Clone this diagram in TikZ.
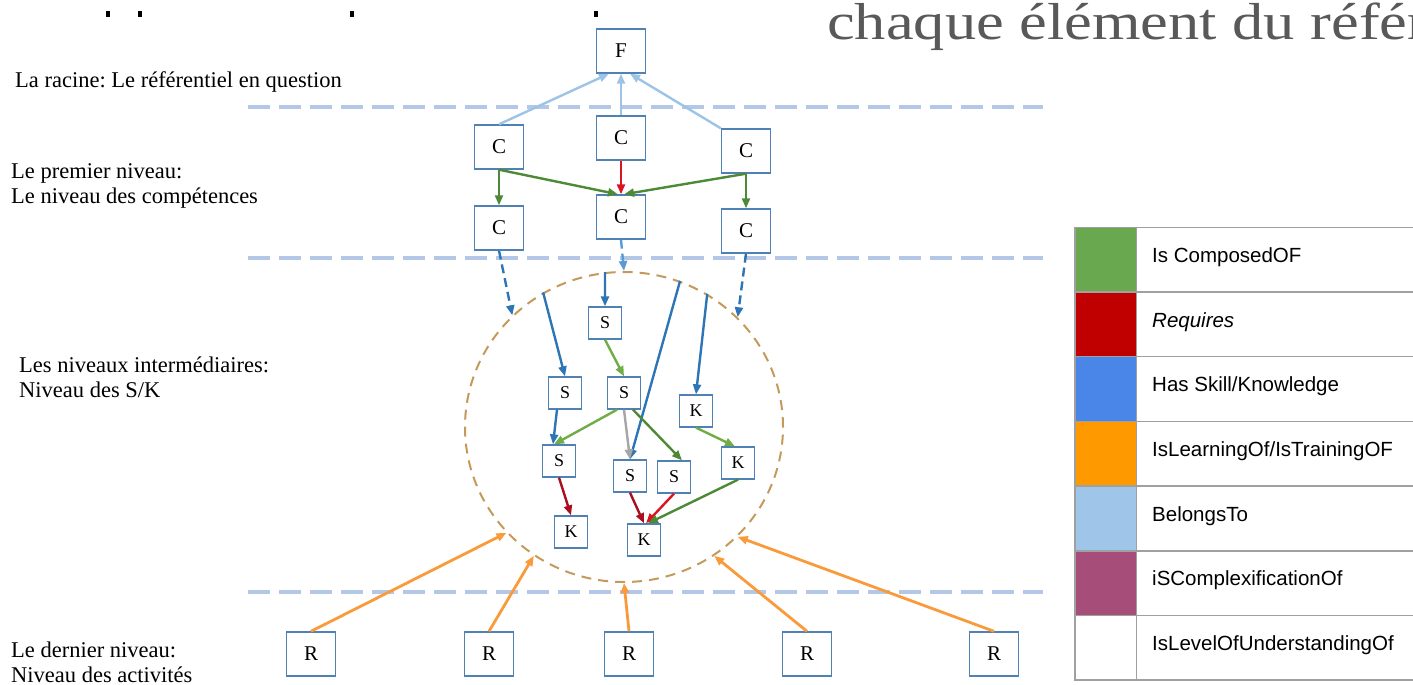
\documentclass[tikz,border=0pt]{standalone}
\usepackage{fontspec}
\setmainfont{Liberation Serif}
\newfontfamily\legfont{Liberation Sans}
\newfontfamily\titlefont[FakeStretch=1.2]{Liberation Serif}
\usepackage{tikz}
\usetikzlibrary{arrows.meta,shapes.geometric}

\definecolor{lvlblue}{HTML}{B4C7E7}
\definecolor{belongc}{HTML}{9DC3E6}
\definecolor{boxc}{HTML}{4F81B4}
\definecolor{dgreen}{HTML}{4E8A36}
\definecolor{lgreen}{HTML}{70AD47}
\definecolor{redc}{HTML}{DC1420}
\definecolor{dredc}{HTML}{A8101E}
\definecolor{skillc}{HTML}{2E75B6}
\definecolor{skillc2}{HTML}{5B9BD5}
\definecolor{orangec}{HTML}{F99B3A}
\definecolor{ringc}{HTML}{C49A5A}
\definecolor{topgray}{HTML}{595959}
\definecolor{leggrid}{HTML}{A0A0A0}
\definecolor{lgGreen}{HTML}{6AA84F}
\definecolor{lgRed}{HTML}{C00000}
\definecolor{lgBlue}{HTML}{4A86E8}
\definecolor{lgOrange}{HTML}{FF9900}
\definecolor{lgLight}{HTML}{9FC5E8}
\definecolor{lgPurple}{HTML}{A64D79}

\begin{document}
\frenchspacing
\begin{tikzpicture}[x=1pt,y=-1pt,
  lab/.style={anchor=north west,inner sep=0pt,align=left,font=\fontsize{22.5}{25}\selectfont},
  cbox/.style={draw=boxc,line width=1.4pt,fill=white,minimum width=49pt,minimum height=44pt,inner sep=0pt,font=\fontsize{21}{24}\selectfont},
  sbox/.style={draw=boxc,line width=1.3pt,fill=white,minimum width=33pt,minimum height=32pt,inner sep=0pt,font=\fontsize{18}{20}\selectfont},
  lvl/.style={draw=lvlblue,line width=4pt,dash pattern=on 22pt off 9pt},
  link/.style={line width=2.4pt,-{Triangle[length=10pt,width=8pt]}},
  belongs/.style={link,belongc},
  composed/.style={link,dgreen},
  composedl/.style={link,lgreen},
  requires/.style={link,redc},
  requiresd/.style={link,dredc},
  hasskill/.style={link,skillc},
  skilldash/.style={hasskill,dash pattern=on 9pt off 5pt},
  learning/.style={link,orangec,line width=2.8pt},
  legline/.style={draw=leggrid,line width=1.5pt}
]
\useasboundingbox (0,0) rectangle (1413,685);
\clip (0,0) rectangle (1413,685);

% bits of the line above
\fill (106,11) rectangle (110,17);
\fill (138,11) rectangle (142,17);
\fill (350,11) rectangle (354,17);
\fill (594,11) rectangle (598,17);
\node[anchor=base west,inner sep=0pt,text=topgray,font=\titlefont\fontsize{52}{60}\selectfont] (title) at (827,40) {chaque élément du référ};

% level labels
\node[lab] (lv0) at (15,71) {La racine: Le référentiel en question};
\node[lab] (lv1) at (11,163) {Le premier niveau:\\Le niveau des compétences};
\node[lab] (lv2) at (19,357) {Les niveaux intermédiaires:\\Niveau des S/K};
\node[lab] (lv3) at (11,642) {Le dernier niveau:\\Niveau des activités};

% separators
\draw[lvl] (248,107) -- (1043,107);
\draw[lvl] (248,258) -- (1043,258);
\draw[lvl] (248,592) -- (1043,592);

% root and competences
\node[cbox] (f) at (621,51) {F};
\node[cbox] (c1) at (499,147) {C};
\node[cbox] (c2) at (621,138) {C};
\node[cbox] (c3) at (746,151) {C};
\node[cbox] (c4) at (499,228) {C};
\node[cbox] (c5) at (621,217) {C};
\node[cbox] (c6) at (746,231) {C};

\draw[belongs] (c1.north) -- ([xshift=-12pt]f.south);
\draw[belongs] (c2.north) -- (f.south);
\draw[belongs] (c3.north west) -- ([xshift=9pt]f.south);
\draw[composed] (c1.south) -- (c4.north);
\draw[composed] (c1.south) -- ([xshift=-3pt]c5.north);
\draw[composed] (c3.south) -- ([xshift=3pt]c5.north);
\draw[composed] (c3.south) -- (c6.north);
\draw[requires] (c2.south) -- (c5.north);

% S/K ring
\node[ellipse,draw=ringc,line width=2pt,dash pattern=on 10pt off 7pt,minimum width=318pt,minimum height=310pt,inner sep=0pt] (sk) at (624,427) {};
\draw[skilldash] (c4.south) -- (sk.135);
\draw[skilldash,skillc2] (c5.south) -- (sk.90);
\draw[skilldash] (c6.south) -- (sk.44);

\node[sbox] (s1) at (605,323) {S};
\node[sbox] (s2) at (565,393) {S};
\node[sbox] (s3) at (624,393) {S};
\node[sbox] (k1) at (696,411) {K};
\node[sbox] (s4) at (559,461) {S};
\node[sbox] (s5) at (630,476) {S};
\node[sbox] (s6) at (674,477) {S};
\node[sbox] (k2) at (738,463) {K};
\node[sbox] (k3) at (571,532) {K};
\node[sbox] (k4) at (644,540) {K};

\draw[hasskill] (sk.121) -- (s2.north);
\draw[hasskill] (sk.97) -- (s1.north);
\draw[hasskill] (sk.69) -- (s5.north);
\draw[hasskill] (sk.58) -- (k1.north);
\draw[hasskill] ([xshift=-8pt]s2.south) -- ([xshift=-6pt]s4.north);
\draw[composedl] (s1.south) -- (s3.north);
\draw[composedl] ([xshift=-7pt]s3.south) -- ([xshift=-5pt]s4.north);
\draw[link,gray!70] (s3.south) -- (s5.north);
\draw[composed] ([xshift=9pt]s3.south) -- ([xshift=8pt]s6.north);
\draw[composedl] (k1.south) -- ([xshift=-3pt]k2.north);
\draw[requiresd] (s4.south) -- (k3.north);
\draw[requiresd] (s5.south) -- (k4.north);
\draw[requires] (s6.south) -- ([xshift=2pt]k4.north);
\draw[composed] (k2.south) -- ([xshift=4pt]k4.north);

% activities
\node[cbox] (r1) at (311,654) {R};
\node[cbox] (r2) at (489,654) {R};
\node[cbox] (r3) at (629,654) {R};
\node[cbox] (r4) at (807,654) {R};
\node[cbox] (r5) at (994,654) {R};
\draw[learning] (r1.north) -- (sk.222);
\draw[learning] (r2.north) -- (sk.235);
\draw[learning] (r3.north) -- (sk.270);
\draw[learning] (r4.north) -- (sk.305);
\draw[learning] (r5.north) -- (sk.316);

% legend
\foreach \col/\txt [count=\i] in {lgGreen/{Is ComposedOF},lgRed/{\textit{Requires}},lgBlue/{Has Skill/Knowledge},lgOrange/{IsLearningOf/IsTrainingOF},lgLight/{BelongsTo},lgPurple/{iSComplexificationOf},white/{IsLevelOfUnderstandingOf}}{
  \draw[legline,fill=\col] (1075,{227.3+64.7*(\i-1)}) rectangle (1136.7,{227.3+64.7*\i});
  \draw[legline] (1136.7,{227.3+64.7*(\i-1)}) rectangle (1440,{227.3+64.7*\i});
  \node[anchor=west,inner sep=0pt,font=\legfont\fontsize{20.5}{24}\selectfont] (lt\i) at (1152,{227.3+64.7*\i-35}) {\txt};
}
\end{tikzpicture}
\end{document}
